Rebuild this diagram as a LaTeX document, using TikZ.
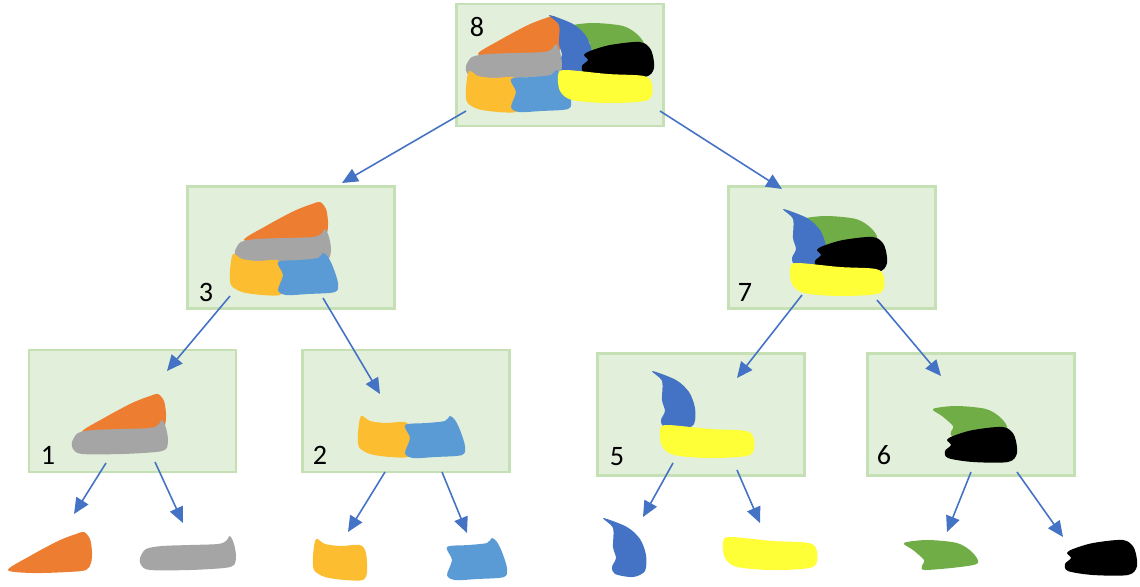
\documentclass[tikz,border=0pt]{standalone}
\usepackage{fontspec}
\setmainfont{Carlito}
\usetikzlibrary{arrows.meta}

\definecolor{boxfill}{HTML}{E2EFDA}
\definecolor{boxline}{HTML}{C5E0B4}
\definecolor{arrowblue}{HTML}{4472C4}
\definecolor{cOrange}{HTML}{ED7D31}
\definecolor{cGray}{HTML}{A5A5A5}
\definecolor{cGold}{HTML}{FDBD30}
\definecolor{cSky}{HTML}{5B9BD5}
\definecolor{cNavy}{HTML}{4472C4}
\definecolor{cYellow}{HTML}{FFFF38}
\definecolor{cGreen}{HTML}{70AD47}

\begin{document}
\begin{tikzpicture}[x=0.02cm, y=-0.02cm,
        box/.style={rectangle, draw=boxline, fill=boxfill, line width=1.2pt, minimum width=4.14cm, minimum height=2.44cm, inner sep=0pt},
        num/.style={font=\fontsize{16}{18}\selectfont, inner sep=0pt},
        arrow/.style={-{Triangle[length=9pt, width=8pt]}, arrowblue, line width=0.9pt},
        orangeblob/.pic={\fill[cOrange] plot[smooth cycle] coordinates {(0,38) (22,24) (50,9) (68,2) (76,0) (82,7) (84,20) (83,31) (78,38) (60,40) (25,41)};},
        grayblob/.pic={\fill[cGray] plot[smooth cycle] coordinates {(0,22) (6,13) (22,10) (50,9) (78,8) (86,5) (90,0) (94,8) (96,20) (94,29) (84,32) (50,34) (10,34) (1,29)};},
        goldblob/.pic={\fill[cGold] plot[smooth cycle] coordinates {(3,0) (12,5) (28,7) (47,6) (53,14) (54,33) (50,41) (32,41) (12,38) (1,31) (0,17)};},
        skyblob/.pic={\fill[cSky] plot[smooth cycle] coordinates {(0,9) (22,7) (40,5) (45,0) (50,4) (55,14) (60,30) (57,39) (30,41) (8,42) (0,37) (5,22)};},
        navyblob/.pic={\fill[cNavy] plot[smooth cycle] coordinates {(0,0) (24,9) (37,21) (43,37) (42,53) (30,59) (12,56) (9,49) (13,40) (10,29) (10,10)};},
        yellowblob/.pic={\fill[cYellow] plot[smooth cycle] coordinates {(0,5) (7,0) (50,4) (86,6) (94,14) (90,30) (50,33) (14,30) (2,21)};},
        greenblob/.pic={\fill[cGreen] plot[smooth cycle] coordinates {(0,3) (23,0) (53,3) (68,12) (74,23) (56,27) (21,30) (18,26) (20,20) (9,10)};},
        blackblob/.pic={\fill[black] plot[smooth cycle] coordinates {(8,9) (28,3) (58,0) (69,8) (72,26) (63,35) (28,35) (3,31) (0,24) (6,18) (2,13)};}
    ]
    \useasboundingbox (0,0) rectangle (1140,586);

    % boxes
    \node[box] (b8) at (560,65) {};
    \node[box] (b3) at (291,247.5) {};
    \node[box] (b7) at (832,247.5) {};
    \node[box] (b1) at (132.5,411) {};
    \node[box] (b2) at (406,411) {};
    \node[box] (b5) at (701,414.5) {};
    \node[box] (b6) at (971,414.5) {};

    % root: all pieces
    \pic at (478,16) {orangeblob};
    \pic at (570,23) {greenblob};
    \pic at (549,15) {navyblob};
    \pic at (582,42) {blackblob};
    \pic at (466,44) {grayblob};
    \pic at (466,71) {goldblob};
    \pic at (511,70) {skyblob};
    \pic at (558,70) {yellowblob};

    % second level
    \pic at (244,202) {orangeblob};
    \pic at (235,229) {grayblob};
    \pic at (230,254) {goldblob};
    \pic at (278,253) {skyblob};

    \pic at (803,216) {greenblob};
    \pic at (783,209) {navyblob};
    \pic at (815,237) {blackblob};
    \pic at (790,263) {yellowblob};

    % third level
    \pic at (82,394) {orangeblob};
    \pic at (72,420) {grayblob};
    \pic at (358,416) {goldblob};
    \pic at (405,416) {skyblob};
    \pic at (652,371) {navyblob};
    \pic at (660,425) {yellowblob};
    \pic at (933,406) {greenblob};
    \pic at (945,427) {blackblob};

    % leaves
    \pic at (8,532) {orangeblob};
    \pic at (140,536) {grayblob};
    \pic at (313,539) {goldblob};
    \pic at (447,538) {skyblob};
    \pic at (603,518) {navyblob};
    \pic at (723,537) {yellowblob};
    \pic at (904,540) {greenblob};
    \pic at (1065,540) {blackblob};

    % numbers
    \node[num] (n8) at (477,27) {8};
    \node[num] (n3) at (206,292) {3};
    \node[num] (n7) at (745,292) {7};
    \node[num] (n1) at (48,455) {1};
    \node[num] (n2) at (320,455) {2};
    \node[num] (n5) at (617,457) {5};
    \node[num] (n6) at (884,455) {6};

    % arrow ends
    \coordinate (s83) at (466,111); \coordinate (t83) at (342,183);
    \coordinate (s87) at (660,111); \coordinate (t87) at (782,189);
    \coordinate (s31) at (230,296); \coordinate (t31) at (167,371);
    \coordinate (s32) at (323,298); \coordinate (t32) at (380,394);
    \coordinate (s75) at (802,295); \coordinate (t75) at (737,378);
    \coordinate (s76) at (877,300); \coordinate (t76) at (941,376);
    \coordinate (s1a) at (106,463); \coordinate (t1a) at (74,514);
    \coordinate (s1b) at (155,462); \coordinate (t1b) at (183,523);
    \coordinate (s2a) at (385,472); \coordinate (t2a) at (348,532);
    \coordinate (s2b) at (442,472); \coordinate (t2b) at (467,533);
    \coordinate (s5a) at (673,463); \coordinate (t5a) at (643,517);
    \coordinate (s5b) at (737,470); \coordinate (t5b) at (760,523);
    \coordinate (s6a) at (971,472); \coordinate (t6a) at (947,532);
    \coordinate (s6b) at (1017,472); \coordinate (t6b) at (1063,537);

    \draw[arrow] (s83) -- (t83);
    \draw[arrow] (s87) -- (t87);
    \draw[arrow] (s31) -- (t31);
    \draw[arrow] (s32) -- (t32);
    \draw[arrow] (s75) -- (t75);
    \draw[arrow] (s76) -- (t76);
    \draw[arrow] (s1a) -- (t1a);
    \draw[arrow] (s1b) -- (t1b);
    \draw[arrow] (s2a) -- (t2a);
    \draw[arrow] (s2b) -- (t2b);
    \draw[arrow] (s5a) -- (t5a);
    \draw[arrow] (s5b) -- (t5b);
    \draw[arrow] (s6a) -- (t6a);
    \draw[arrow] (s6b) -- (t6b);
\end{tikzpicture}
\end{document}
